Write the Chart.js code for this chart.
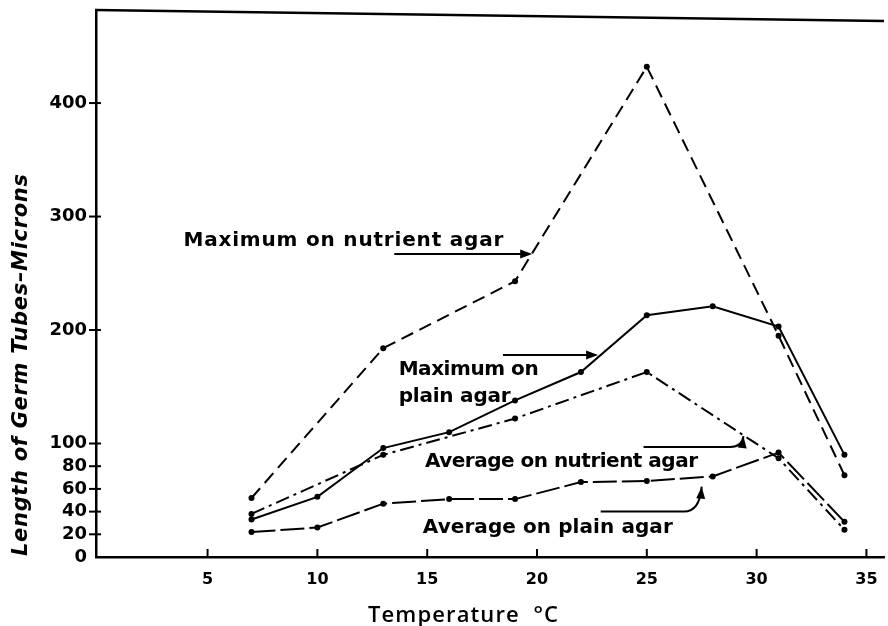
<!DOCTYPE html>
<html>
<head>
<meta charset="utf-8">
<script src="https://cdn.jsdelivr.net/npm/chart.js@4.4.1/dist/chart.umd.min.js"></script>
<style>
  html, body { margin: 0; padding: 0; background: #fff; }
</style>
</head>
<body>
<canvas id="chart" width="888" height="626"></canvas>
<script>
// --- Data ---
const tempsAll = [7, 10, 13, 16, 19, 22, 25, 28, 31, 34];
const tempsSix = [7, 13, 19, 25, 31, 34];
const maxNutrient = [52, 184, 243, 432, 195, 72];
const maxPlain = [33, 53, 96, 110, 138, 163, 213, 221, 203, 90];
const avgNutrient = [38, 90, 122, 163, 87, 24];
const avgPlain = [22, 26, 47, 51, 51, 66, 67, 71, 92, 31];
const xTicks = [5, 10, 15, 20, 25, 30, 35];
const yTicks = [0, 20, 40, 60, 80, 100, 200, 300, 400];

const FONT = '"DejaVu Sans", sans-serif';

const pts = (xs, ys) => xs.map((x, i) => ({ x: x, y: ys[i] }));

function series(label, xs, ys, dash) {
	return {
		label: label,
		data: pts(xs, ys),
		borderColor: '#000',
		backgroundColor: '#000',
		borderWidth: 2,
		borderDash: dash,
		pointRadius: 3,
		pointBorderWidth: 0,
		pointBackgroundColor: '#000',
		tension: 0,
		fill: false
	};
}

// text stretched (via letter spacing) to the width it has in the figure
function fitText(ctx, str, x, y, width) {
	ctx.letterSpacing = '0px';
	const w = ctx.measureText(str).width;
	ctx.letterSpacing = ((width - w) / (str.length - 1)) + 'px';
	ctx.fillText(str, x, y);
	ctx.letterSpacing = '0px';
}

function arrowHead(ctx, x, y, angle) {
	ctx.save();
	ctx.translate(x, y);
	ctx.rotate(angle);
	ctx.beginPath();
	ctx.moveTo(0, 0);
	ctx.lineTo(-12, -4.5);
	ctx.lineTo(-12, 4.5);
	ctx.closePath();
	ctx.fill();
	ctx.restore();
}

// labels + arrows, placed in data units
const labels = [
	{ text: 'Maximum on nutrient agar', x: 3.9, y: 274, w: 320 },
	{ text: 'Maximum on', x: 13.7, y: 160, w: 140 },
	{ text: 'plain agar', x: 13.7, y: 137, w: 112 },
	{ text: 'Average on nutrient agar', x: 14.9, y: 79, w: 273 },
	{ text: 'Average on plain agar', x: 14.8, y: 21, w: 250 }
];
const arrows = [
	{ path: [[13.5, 267], [19.6, 267]] },
	{ path: [[18.45, 178], [22.6, 178]] },
	{ path: [[24.85, 97], [28.8, 97]], ctrl: [29.35, 97], end: [29.4, 106.5] },
	{ path: [[22.9, 40], [26.7, 40]], ctrl: [27.4, 40], end: [27.5, 62] }
];

const decorPlugin = {
	id: 'decor',
	afterDraw(chart) {
		const { ctx, chartArea: a, scales: { x, y } } = chart;
		const X = v => x.getPixelForValue(v);
		const Y = v => y.getPixelForValue(v);
		ctx.save();
		ctx.strokeStyle = '#000';
		ctx.fillStyle = '#000';

		// top frame line (slightly askew in the original)
		ctx.lineWidth = 2.5;
		ctx.beginPath();
		ctx.moveTo(a.left - 1, a.top);
		ctx.lineTo(a.right, a.top + 11);
		ctx.stroke();

		// tick marks
		ctx.lineWidth = 2;
		xTicks.forEach(v => {
			ctx.beginPath();
			ctx.moveTo(X(v), a.bottom);
			ctx.lineTo(X(v), a.bottom - 8);
			ctx.stroke();
		});
		yTicks.slice(1).forEach(v => {
			ctx.beginPath();
			ctx.moveTo(a.left - 7, Y(v));
			ctx.lineTo(a.left + 5, Y(v));
			ctx.stroke();
		});

		// arrows
		ctx.lineWidth = 2;
		arrows.forEach(ar => {
			const p = ar.path.map(q => [X(q[0]), Y(q[1])]);
			ctx.beginPath();
			ctx.moveTo(p[0][0], p[0][1]);
			ctx.lineTo(p[1][0], p[1][1]);
			if (ar.ctrl) {
				const c = [X(ar.ctrl[0]), Y(ar.ctrl[1])];
				const e = [X(ar.end[0]), Y(ar.end[1])];
				ctx.quadraticCurveTo(c[0], c[1], e[0], e[1]);
				ctx.stroke();
				arrowHead(ctx, e[0], e[1], Math.atan2(e[1] - c[1], e[0] - c[0]));
			} else {
				ctx.stroke();
				arrowHead(ctx, p[1][0] + 4, p[1][1], 0);
			}
		});

		// curve labels
		ctx.font = 'bold 20px ' + FONT;
		ctx.textAlign = 'left';
		ctx.textBaseline = 'alphabetic';
		labels.forEach(l => fitText(ctx, l.text, X(l.x), Y(l.y), l.w));

		// axis titles
		ctx.font = '600 22px "Open Sans", sans-serif';
		fitText(ctx, 'Temperature  °C', 368, 622, 190);

		ctx.translate(22, 556);
		ctx.rotate(-Math.PI / 2);
		ctx.textBaseline = 'middle';
		ctx.font = 'italic bold 21px ' + FONT;
		fitText(ctx, 'Length of Germ Tubes\u2013Microns', 0, 0, 382);
		ctx.restore();
	}
};

new Chart(document.getElementById('chart'), {
	type: 'line',
	data: {
		datasets: [
			series('Maximum on nutrient agar', tempsSix, maxNutrient, [13, 7]),
			series('Maximum on plain agar', tempsAll, maxPlain, []),
			series('Average on nutrient agar', tempsSix, avgNutrient, [14, 5, 3, 5]),
			series('Average on plain agar', tempsAll, avgPlain, [24, 5])
		]
	},
	options: {
		responsive: false,
		animation: false,
		layout: { padding: { top: 10, right: 0, left: 0, bottom: 0 } },
		plugins: { legend: { display: false }, tooltip: { enabled: false } },
		scales: {
			x: {
				type: 'linear',
				min: -0.08,
				max: 35.8,
				grid: { display: false, drawTicks: false },
				border: { display: true, color: '#000', width: 2.5 },
				ticks: { color: '#000', padding: 13, font: { family: FONT, size: 16, weight: 'bold' } },
				afterBuildTicks: s => { s.ticks = xTicks.map(v => ({ value: v })); },
				afterFit: s => { s.height = 69; s.paddingLeft = 0; s.paddingRight = 0; }
			},
			y: {
				type: 'linear',
				min: 0,
				max: 482,
				grid: { display: false, drawTicks: false },
				border: { display: true, color: '#000', width: 2.5 },
				ticks: { color: '#000', padding: 9, font: { family: FONT, size: 18, weight: 'bold' } },
				afterBuildTicks: s => { s.ticks = yTicks.map(v => ({ value: v })); },
				afterFit: s => { s.width = 96; s.paddingTop = 0; s.paddingBottom = 0; }
			}
		}
	},
	plugins: [decorPlugin]
});
</script>
</body>
</html>
